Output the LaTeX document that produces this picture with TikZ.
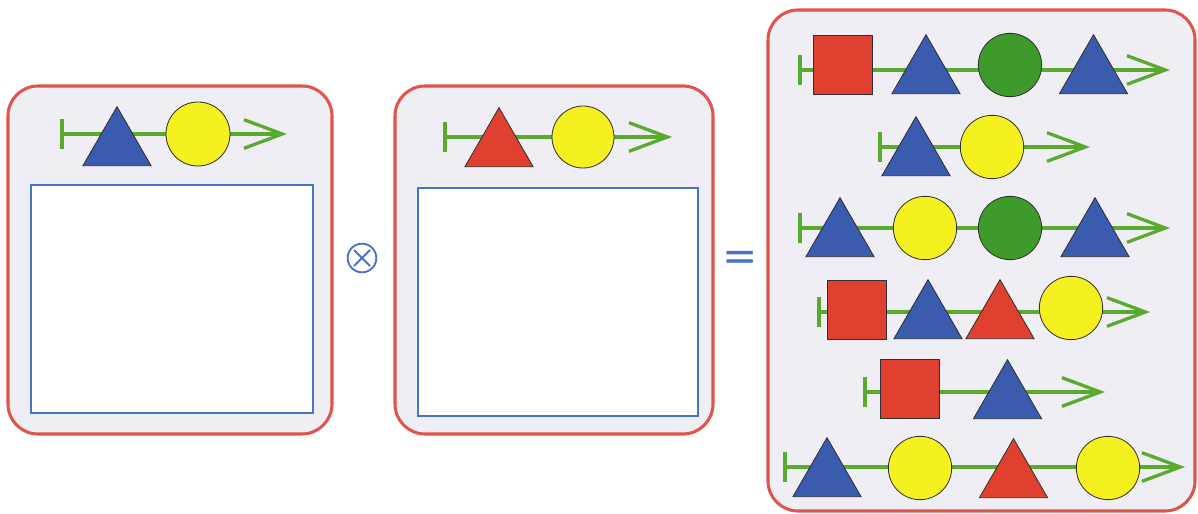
\documentclass[tikz,border=0pt]{standalone}
\usepackage{fontspec}
\newfontfamily\eqfont{DejaVu Sans}
\usetikzlibrary{shapes.geometric,arrows.meta}
\definecolor{panelfill}{HTML}{EEEEF4}
\definecolor{panelred}{HTML}{E0554A}
\definecolor{boxblue}{HTML}{4A72C8}
\definecolor{shred}{HTML}{E0402F}
\definecolor{shblue}{HTML}{3A5BAE}
\definecolor{shyellow}{HTML}{F5F020}
\definecolor{shgreen}{HTML}{3E9A2A}
\definecolor{chaingreen}{HTML}{5AAA2E}
\definecolor{edge}{HTML}{303030}
\tikzset{
  panel/.style={draw=panelred, line width=2.6pt, fill=panelfill, rounded corners=0.9cm},
  slot/.style={draw=boxblue, line width=1.4pt, fill=white},
  chainline/.style={draw=chaingreen, line width=3pt,
    {Bar[width=0.92cm, line width=3.6pt]}-{Straight Barb[length=1.15cm, width=0.86cm, line width=2.8pt]}},
  tri/.style={regular polygon, regular polygon sides=3, minimum size=2.36cm, inner sep=0pt, draw=edge, line width=0.7pt},
  sq/.style={rectangle, minimum size=1.77cm, inner sep=0pt, draw=edge, line width=0.7pt, fill=shred},
  circ/.style={circle, minimum size=1.9cm, inner sep=0pt, draw=edge, line width=0.7pt},
  btri/.style={tri, fill=shblue},
  rtri/.style={tri, fill=shred},
  ycirc/.style={circ, fill=shyellow},
  gcirc/.style={circ, fill=shgreen},
  opsym/.style={draw=boxblue, line width=1.6pt}
}
\begin{document}
\begin{tikzpicture}[x=0.03cm, y=-0.03cm]
\useasboundingbox[fill=white] (0,0) rectangle (1198,514);
% panels
\path[panel] (8,86) rectangle (332,434);
\path[panel] (395,86) rectangle (713,434);
\path[panel] (768,10) rectangle (1195,511);
\node[slot, minimum width=282*0.03cm, minimum height=228*0.03cm, anchor=north west] (slotA) at (30,184) {};
\node[slot, minimum width=280*0.03cm, minimum height=228*0.03cm, anchor=north west] (slotB) at (417,187) {};
% operator symbols
\node[circle, opsym, minimum size=0.86cm, inner sep=0pt] (otimes) at (362,258) {};
\draw[opsym] (otimes.center) +(-8,-8) -- +(8,8);
\draw[opsym] (otimes.center) +(-8,8) -- +(8,-8);
\node[text=boxblue, font=\eqfont\fontsize{36}{36}\selectfont, inner sep=0pt] (eq) at (740,261) {=};
% panel 1 chain
\coordinate (a0) at (60,134); \coordinate (a9) at (287,134);
\draw[chainline] (a0) -- (a9);
\node[btri] (a1) at (117,146) {};
\node[ycirc, minimum size=1.92cm] (a2) at (198,134) {};
% panel 2 chain
\coordinate (b0) at (443,137); \coordinate (b9) at (672,137);
\draw[chainline] (b0) -- (b9);
\node[rtri] (b1) at (499,147) {};
\node[ycirc, minimum size=1.86cm] (b2) at (583,137) {};
% row 1
\coordinate (r1s) at (798,70); \coordinate (r1e) at (1170,70);
\draw[chainline] (r1s) -- (r1e);
\node[sq] (r1a) at (842.5,65) {};
\node[btri] (r1b) at (926,74) {};
\node[gcirc] (r1c) at (1010,65) {};
\node[btri] (r1d) at (1093.5,74) {};
% row 2
\coordinate (r2s) at (878,147); \coordinate (r2e) at (1090,147);
\draw[chainline] (r2s) -- (r2e);
\node[btri] (r2a) at (916,156) {};
\node[ycirc] (r2b) at (992,147) {};
% row 3
\coordinate (r3s) at (798,228); \coordinate (r3e) at (1170,228);
\draw[chainline] (r3s) -- (r3e);
\node[btri] (r3a) at (840,237) {};
\node[ycirc] (r3b) at (925,228) {};
\node[gcirc] (r3c) at (1010,228) {};
\node[btri] (r3d) at (1095,237) {};
% row 4
\coordinate (r4s) at (817,312); \coordinate (r4e) at (1150,312);
\draw[chainline] (r4s) -- (r4e);
\node[sq] (r4a) at (856.5,309.5) {};
\node[btri] (r4b) at (928,319) {};
\node[rtri] (r4c) at (1000,319) {};
\node[ycirc] (r4d) at (1071,308) {};
% row 5
\coordinate (r5s) at (863,392); \coordinate (r5e) at (1105,392);
\draw[chainline] (r5s) -- (r5e);
\node[sq] (r5a) at (909.5,388.5) {};
\node[btri] (r5b) at (1007.5,399) {};
% row 6
\coordinate (r6s) at (783,467); \coordinate (r6e) at (1185,467);
\draw[chainline] (r6s) -- (r6e);
\node[btri] (r6a) at (827,477) {};
\node[ycirc] (r6b) at (920,468) {};
\node[rtri] (r6c) at (1013.5,478) {};
\node[ycirc] (r6d) at (1108,468) {};
\end{tikzpicture}
\end{document}
